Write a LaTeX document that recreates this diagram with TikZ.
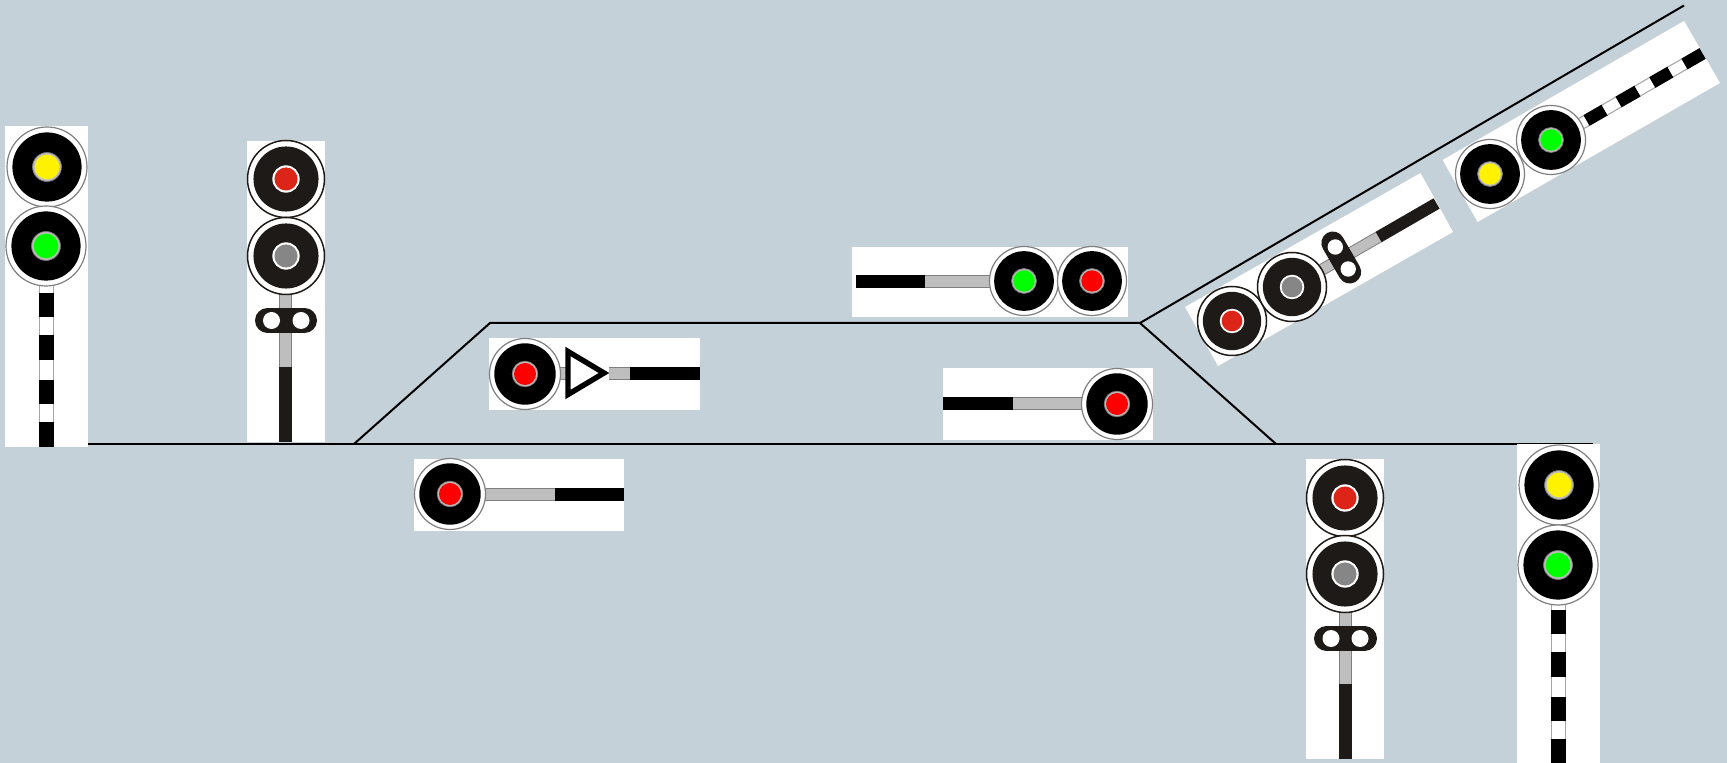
\documentclass[tikz,border=0pt]{standalone}
\definecolor{bgc}{HTML}{C5D1D8}
\definecolor{darkc}{HTML}{1E1A17}
\definecolor{polec}{HTML}{BEBEBE}
\definecolor{edgec}{HTML}{7F7F7F}
\definecolor{redb}{HTML}{DD2418}
\definecolor{grayl}{HTML}{868686}
\tikzset{
  track/.style={draw=black,line width=1pt},
  whitebox/.style={fill=white,draw=none},
  plate/.style={line width=#1,line cap=round,color=darkc},
  hole/.style={fill=white,draw=none}
}
% head: position, lamp colour, radius
\newcommand\headA[3]{%
  \fill[white,draw=edgec,line width=.6pt] (#1) circle (#3);
  \fill[black] (#1) circle ({#3*.865});
  \fill[polec,draw=edgec,line width=.4pt] (#1) circle ({#3*.36});
  \fill[#2] (#1) circle ({#3*.31});
}
\newcommand\headB[3]{%
  \fill[white,draw=darkc,line width=.75pt] (#1) circle (#3);
  \fill[darkc] (#1) circle ({#3*.845});
  \fill[white] (#1) circle ({#3*.355});
  \fill[#2] (#1) circle ({#3*.30});
}
% pole segments: start, end, width in pt
\newcommand\segG[3]{\draw[edgec,line width=#3] (#1) -- (#2);
  \draw[polec,line width=#3-1pt] (#1) -- (#2);}
\newcommand\segW[3]{\draw[edgec!70,line width=#3] (#1) -- (#2);
  \draw[white,line width=#3-1.2pt] (#1) -- (#2);}
\newcommand\segK[3]{\draw[black,line width=#3] (#1) -- (#2);}
\newcommand\segD[3]{\draw[darkc,line width=#3] (#1) -- (#2);}
\begin{document}
\begin{tikzpicture}[x=0.5pt,y=-0.5pt]
\fill[bgc] (0,0) rectangle (1727,763);
\useasboundingbox (0,0) rectangle (1727,763);

% track
\coordinate (mainL) at (88,444);
\coordinate (mainR) at (1593,444);
\coordinate (sw1) at (354,444);
\coordinate (sw2) at (490,323);
\coordinate (sw3) at (1140,323);
\coordinate (sw4) at (1276,444);
\coordinate (branch) at (1684,5.5);
\draw[track] (mainL) -- (mainR);
\draw[track] (sw1) -- (sw2) -- (sw3) -- (sw4);
\draw[track] (sw3) -- (branch);

% white boxes
\fill[whitebox] (5,126) rectangle (88,447);
\fill[whitebox] (247,141) rectangle (325,442);
\fill[whitebox] (414,459) rectangle (624,531);
\fill[whitebox] (489,338) rectangle (700,410);
\fill[whitebox] (852,247) rectangle (1128,317);
\fill[whitebox] (943,368) rectangle (1153,440);
\fill[whitebox] (1306,459) rectangle (1384,759);
\fill[whitebox] (1517,444.5) rectangle (1600,763);
\fill[whitebox] (1185,307) -- (1420.5,173) -- (1453,232) -- (1218,366) -- cycle;
\fill[whitebox] (1442.6,160) -- (1684,21) -- (1720,83) -- (1477.6,222) -- cycle;

% signal 1 (far left)
\segW{46.5,284}{46.5,293}{7.5pt}
\segK{46.5,293}{46.5,317}{7.5pt}
\segW{46.5,317}{46.5,335}{7.5pt}
\segK{46.5,335}{46.5,360}{7.5pt}
\segW{46.5,360}{46.5,380}{7.5pt}
\segK{46.5,380}{46.5,404}{7.5pt}
\segW{46.5,404}{46.5,422}{7.5pt}
\segK{46.5,422}{46.5,447}{7.5pt}
\coordinate (s1a) at (47,167);
\coordinate (s1b) at (46,246);
\headA{s1a}{yellow}{40}
\headA{s1b}{green}{40}

% signal 2
\segG{285.5,292}{285.5,367}{6.5pt}
\segD{285.5,367}{285.5,442}{6.5pt}
\coordinate (s2a) at (286,179);
\coordinate (s2b) at (286,256);
\headB{s2a}{redb}{38.5}
\headB{s2b}{grayl}{38.5}
\draw[plate=12.5pt] (267.5,320.5) -- (304.5,320.5);
\fill[hole] (271.5,320.5) circle (8.5);
\fill[hole] (301,320.5) circle (8.5);

% signal 3
\segG{480,494.5}{555,494.5}{6.5pt}
\segK{555,494.5}{624,494.5}{6.5pt}
\coordinate (s3) at (450,494);
\headA{s3}{red}{35.5}

% signal 4 with triangle
\segG{555,374}{566,374}{6.5pt}
\segG{609,374}{630,374}{6.5pt}
\segK{630,374}{700,374}{6.5pt}
\coordinate (s4) at (525,374);
\headA{s4}{red}{35.5}
\draw[fill=white,draw=black,line width=2.7pt,miter limit=10] (568,351.5) -- (568,394.5) -- (604,373) -- cycle;

% signal 5
\segK{856,281.5}{925,281.5}{6.5pt}
\segG{925,281.5}{995,281.5}{6.5pt}
\coordinate (s5a) at (1024,281);
\coordinate (s5b) at (1092,281);
\headA{s5a}{green}{34.5}
\headA{s5b}{red}{34.5}

% signal 6
\segK{943,404}{1013,404}{6.5pt}
\segG{1013,404}{1085,404}{6.5pt}
\coordinate (s6) at (1117,404);
\headA{s6}{red}{35.5}

% signal 7
\segG{1345,610}{1345,684}{6.5pt}
\segD{1345,684}{1345,759}{6.5pt}
\coordinate (s7a) at (1345,498);
\coordinate (s7b) at (1345,574);
\headB{s7a}{redb}{38.5}
\headB{s7b}{grayl}{38.5}
\draw[plate=12.5pt] (1326.5,638.5) -- (1364.5,638.5);
\fill[hole] (1331,638.5) circle (8.5);
\fill[hole] (1360,638.5) circle (8.5);

% signal 8
\segW{1558.5,600}{1558.5,610}{7.5pt}
\segK{1558.5,610}{1558.5,634}{7.5pt}
\segW{1558.5,634}{1558.5,652}{7.5pt}
\segK{1558.5,652}{1558.5,677}{7.5pt}
\segW{1558.5,677}{1558.5,697}{7.5pt}
\segK{1558.5,697}{1558.5,721}{7.5pt}
\segW{1558.5,721}{1558.5,739}{7.5pt}
\segK{1558.5,739}{1558.5,763}{7.5pt}
\coordinate (s8a) at (1559,485);
\coordinate (s8b) at (1558,565);
\headA{s8a}{yellow}{40}
\headA{s8b}{green}{40}

% signal 9 (rotated, dark)
\segG{1322.3,269.5}{1378.6,237}{6pt}
\segD{1378.6,237}{1436.6,203.5}{6pt}
\coordinate (s9a) at (1232,321);
\coordinate (s9b) at (1292,287);
\headB{s9a}{redb}{34.5}
\headB{s9b}{grayl}{34.5}
\draw[plate=11.5pt] (1332.85,243) -- (1349.65,272);
\fill[hole] (1335.3,247) circle (7.7);
\fill[hole] (1348.2,269) circle (7.7);

% signal 10 (rotated, striped)
\segW{1581.3,123.5}{1586.5,120.5}{6.2pt}
\segK{1586.5,120.5}{1604.7,110}{6.2pt}
\segW{1604.7,110}{1618.5,102}{6.2pt}
\segK{1618.5,102}{1637.6,91}{6.2pt}
\segW{1637.6,91}{1652.3,82.5}{6.2pt}
\segK{1652.3,82.5}{1670.5,72}{6.2pt}
\segW{1670.5,72}{1684.4,64}{6.2pt}
\segK{1684.4,64}{1702.6,53.5}{6.2pt}
\coordinate (s10a) at (1490,174);
\coordinate (s10b) at (1551,140);
\headA{s10a}{yellow}{34.5}
\headA{s10b}{green}{34.5}
\end{tikzpicture}
\end{document}
